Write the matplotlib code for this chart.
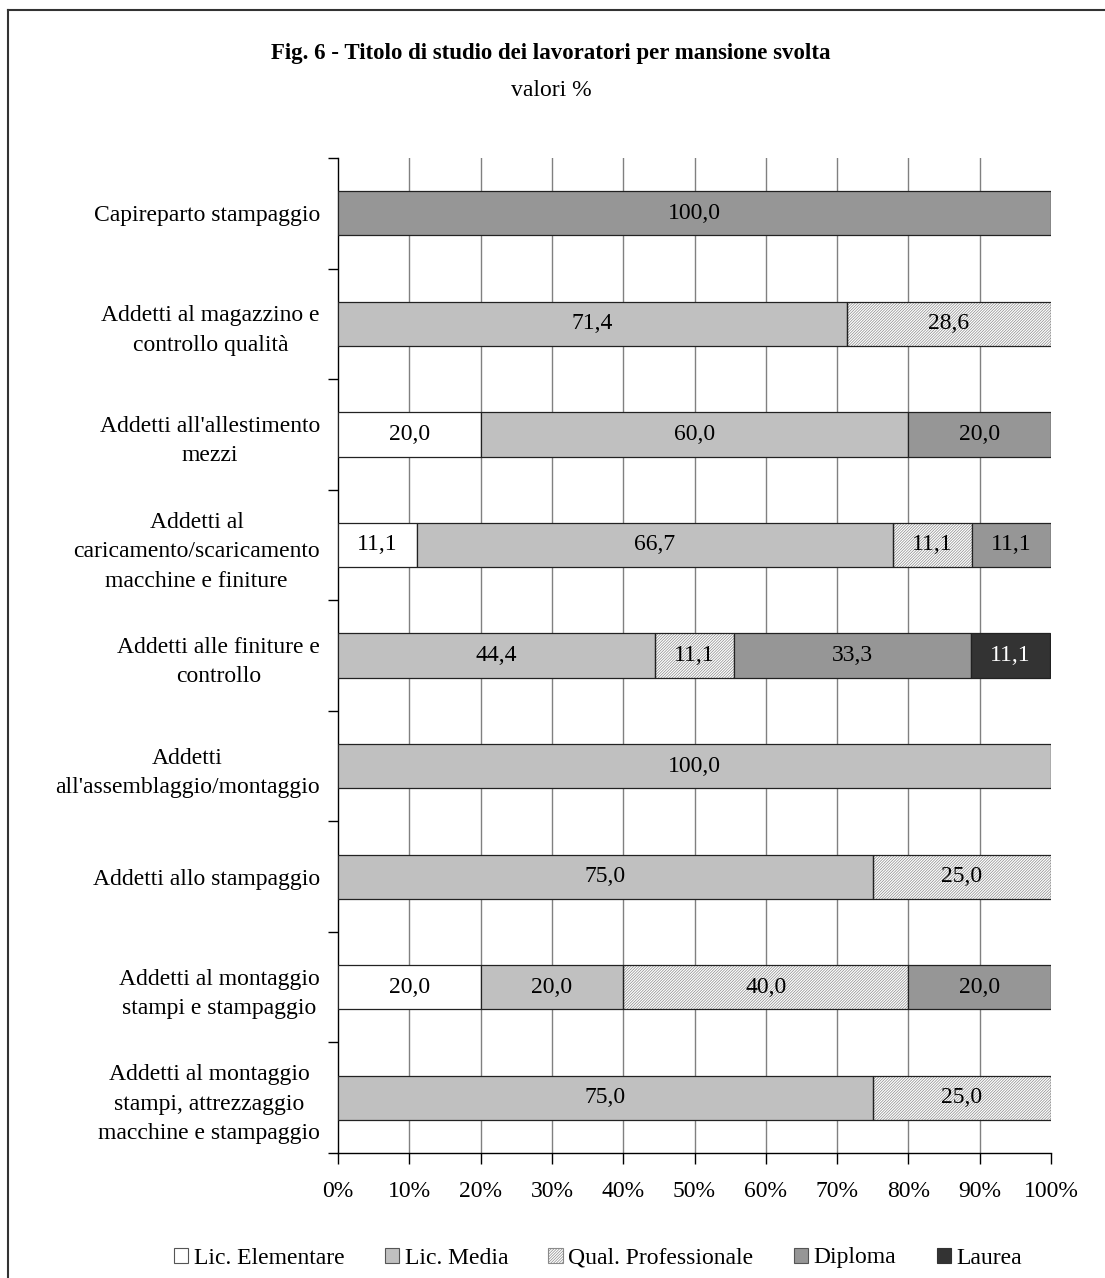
import numpy as np
import matplotlib
matplotlib.use("Agg")
import matplotlib.pyplot as plt
from matplotlib.patches import Patch
from matplotlib.lines import Line2D

plt.rcParams['font.family'] = ['Liberation Serif', 'DejaVu Serif']
plt.rcParams['hatch.linewidth'] = 0.5

# Job roles, top to bottom
categories = [
    "Capireparto stampaggio",
    "Addetti al magazzino e\ncontrollo qualità",
    "Addetti all'allestimento\nmezzi",
    "Addetti al\ncaricamento/scaricamento\nmacchine e finiture",
    "Addetti alle finiture e\ncontrollo",
    "Addetti\nall'assemblaggio/montaggio",
    "Addetti allo stampaggio",
    "Addetti al montaggio\nstampi e stampaggio",
    "Addetti al montaggio\nstampi, attrezzaggio\nmacchine e stampaggio",
]

series_names = ["Lic. Elementare", "Lic. Media", "Qual. Professionale", "Diploma", "Laurea"]

lic_elementare = [0.0, 0.0, 20.0, 11.1, 0.0, 0.0, 0.0, 20.0, 0.0]
lic_media = [0.0, 71.4, 60.0, 66.7, 44.4, 100.0, 75.0, 20.0, 75.0]
qual_professionale = [0.0, 28.6, 0.0, 11.1, 11.1, 0.0, 25.0, 40.0, 25.0]
diploma = [100.0, 0.0, 20.0, 11.1, 33.3, 0.0, 0.0, 20.0, 0.0]
laurea = [0.0, 0.0, 0.0, 0.0, 11.1, 0.0, 0.0, 0.0, 0.0]

x_ticks = [0, 10, 20, 30, 40, 50, 60, 70, 80, 90, 100]

series = [lic_elementare, lic_media, qual_professionale, diploma, laurea]
face_colors = ["white", "#c0c0c0", "white", "#969696", "#333333"]
HATCH = "/" * 12
hatches = [None, None, HATCH, None, None]
text_colors = ["black", "black", "black", "black", "white"]

FS = 17

fig = plt.figure(figsize=(11.05, 12.78), dpi=100)
ax = fig.add_axes([338 / 1105, 1 - 1153 / 1278, (1051 - 338) / 1105, (1153 - 158) / 1278])

y = np.arange(len(categories))
left = np.zeros(len(categories))
bar_h = 0.4

for vals, fc, hatch, tc in zip(series, face_colors, hatches, text_colors):
    vals = np.asarray(vals)
    idx = np.nonzero(vals > 0)[0]
    if len(idx):
        if hatch:
            ax.barh(y[idx], vals[idx], left=left[idx], height=bar_h,
                    facecolor=fc, edgecolor="#8a8a8a", hatch=hatch,
                    linewidth=0, zorder=2)
            bars = ax.barh(y[idx], vals[idx], left=left[idx], height=bar_h,
                           fill=False, edgecolor="#222222", linewidth=0.9, zorder=3)
        else:
            bars = ax.barh(y[idx], vals[idx], left=left[idx], height=bar_h,
                           facecolor=fc, edgecolor="#222222", linewidth=0.9, zorder=3)
        ax.bar_label(bars, labels=[f"{v:.1f}".replace(".", ",") for v in vals[idx]],
                     label_type="center", fontsize=FS, color=tc, zorder=4)
    left = left + vals

ax.set_xlim(0, 100)
ax.set_ylim(len(categories) - 0.5, -0.5)

ax.set_xticks(x_ticks)
ax.set_xticklabels([f"{t}%" for t in x_ticks], fontsize=FS)
ax.tick_params(axis="x", direction="out", length=8, width=1, pad=12)

# category separators as major ticks, names as minor ticks at the bar centres
ax.set_yticks(np.arange(-0.5, len(categories), 1.0))
ax.set_yticklabels([])
ax.set_yticks(y, minor=True)
ax.set_yticklabels(categories, minor=True, fontsize=FS, multialignment="center",
                   linespacing=1.53)
ax.tick_params(axis="y", which="major", direction="out", length=7, width=1)
ax.tick_params(axis="y", which="minor", length=0, pad=13)

ax.grid(axis="x", color="#808080", linewidth=1, zorder=0)
ax.set_axisbelow(True)
ax.xaxis.get_gridlines()[0].set_visible(False)
ax.xaxis.get_gridlines()[-1].set_visible(False)

for s in ["top", "right"]:
    ax.spines[s].set_visible(False)
for s in ["left", "bottom"]:
    ax.spines[s].set_color("black")
    ax.spines[s].set_linewidth(1)

fig.text(551 / 1105, 1 - 53 / 1278, "Fig. 6 - Titolo di studio dei lavoratori per mansione svolta",
         ha="center", va="center", fontsize=16.5, fontweight="bold")
fig.text(551 / 1105, 1 - 91 / 1278, "valori %", ha="center", va="center", fontsize=FS)

handles = [
    Patch(facecolor="white", edgecolor="#555555", linewidth=0.8),
    Patch(facecolor="#c0c0c0", edgecolor="#555555", linewidth=0.8),
    Patch(facecolor="white", edgecolor="#8a8a8a", hatch=HATCH, linewidth=0.8),
    Patch(facecolor="#969696", edgecolor="#555555", linewidth=0.8),
    Patch(facecolor="#333333", edgecolor="#333333", linewidth=0.8),
]
fig.legend(handles, series_names, loc="center", bbox_to_anchor=(598 / 1105, 1 - 1258 / 1278),
           ncol=5, frameon=False, fontsize=FS, handlelength=0.6, handleheight=0.6,
           handletextpad=0.25, columnspacing=1.7, borderpad=0)

# outer frame
fig.add_artist(Line2D([8 / 1105, 8 / 1105], [0, 1 - 10 / 1278], transform=fig.transFigure,
                      color="#333333", linewidth=1.5))
fig.add_artist(Line2D([8 / 1105, 1], [1 - 10 / 1278, 1 - 10 / 1278], transform=fig.transFigure,
                      color="#333333", linewidth=1.5))

fig.savefig("out.png", dpi=100)
